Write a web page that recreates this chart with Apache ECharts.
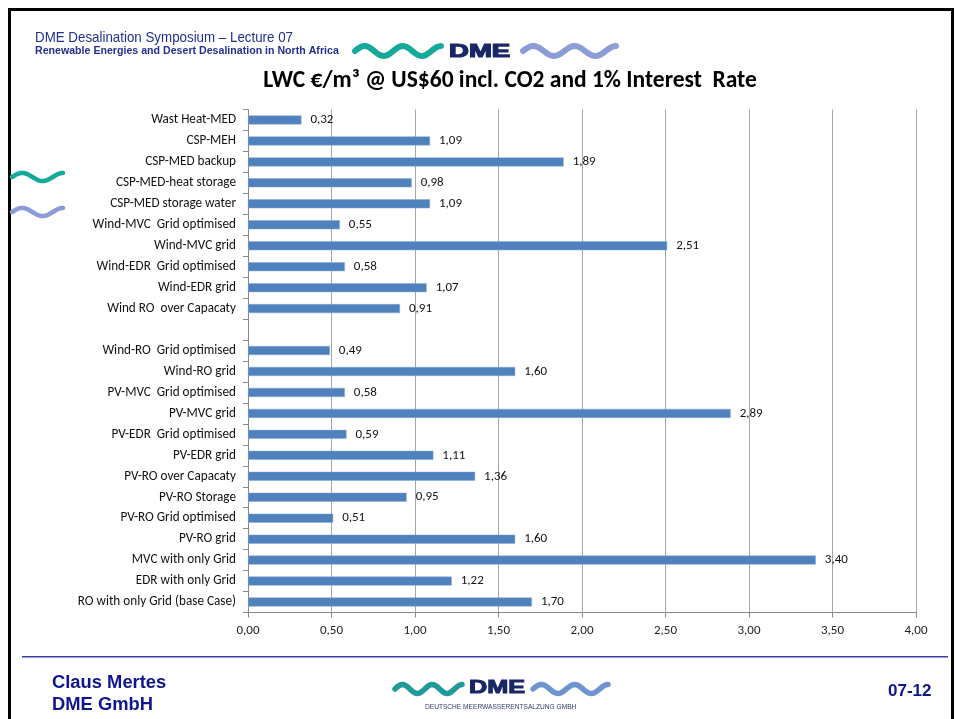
<!DOCTYPE html>
<html>
<head>
<meta charset="utf-8">
<script src="https://cdn.jsdelivr.net/npm/echarts@6/dist/echarts.min.js"></script>
<style>
  html, body { margin: 0; padding: 0; background: #fff; }
  #chart { width: 955px; height: 719px; }
</style>
</head>
<body>
<div id="chart"></div>
<script>
// categories top to bottom (the blank one is the gap in the slide)
var categories = [
    'Wast Heat-MED', 'CSP-MEH', 'CSP-MED backup', 'CSP-MED-heat storage',
    'CSP-MED storage water', 'Wind-MVC  Grid optimised', 'Wind-MVC grid',
    'Wind-EDR  Grid optimised', 'Wind-EDR grid', 'Wind RO  over Capacaty', '',
    'Wind-RO  Grid optimised', 'Wind-RO grid', 'PV-MVC  Grid optimised',
    'PV-MVC grid', 'PV-EDR  Grid optimised', 'PV-EDR grid', 'PV-RO over Capacaty',
    'PV-RO Storage', 'PV-RO Grid optimised', 'PV-RO grid', 'MVC with only Grid',
    'EDR with only Grid', 'RO with only Grid (base Case)'
];
var lwcValues = [
    0.32, 1.09, 1.89, 0.98, 1.09, 0.55, 2.51, 0.58, 1.07, 0.91, '-',
    0.49, 1.60, 0.58, 2.89, 0.59, 1.11, 1.36, 0.95, 0.51, 1.60, 3.40, 1.22, 1.70
];
var xTicks = [0, 0.5, 1, 1.5, 2, 2.5, 3, 3.5, 4];

var LABEL_FONT = 'Carlito, Lato, sans-serif';
var TEAL = '#14a99b';
var LILAC = '#8c9dd6';
var NAVY = '#1a2766';

// wavy decoration for the logos
function wave(x0, x1, yc, amp, periods, color, width) {
    var pts = [];
    var n = 40;
    for (var i = 0; i <= n; i++) {
        var t = i / n;
        pts.push([x0 + (x1 - x0) * t, yc - amp * Math.sin(2 * Math.PI * periods * t)]);
    }
    return {
        type: 'polyline',
        shape: { points: pts },
        style: { stroke: color, lineWidth: width, fill: null, lineCap: 'round' },
        silent: true
    };
}

function fmt(v) {
    return Number(v).toFixed(2).replace('.', ',');
}

var chart = echarts.init(document.getElementById('chart'));

var option = {
    animation: false,
    backgroundColor: '#fff',
    title: {
        text: 'LWC €/m³ @ US$60 incl. CO2 and 1% Interest  Rate',
        left: 505,
        textAlign: 'center',
        top: 64,
        textStyle: {
            fontFamily: LABEL_FONT,
            fontWeight: 'bold',
            fontSize: 23.5,
            color: '#000'
        }
    },
    grid: {
        left: 248,
        right: 39,
        top: 109.5,
        bottom: 106.5,
        containLabel: false
    },
    xAxis: {
        type: 'value',
        min: 0,
        max: 4,
        interval: 0.5,
        axisLine: { show: true, lineStyle: { color: '#888', width: 1 } },
        axisTick: { show: true, length: 5, lineStyle: { color: '#888' } },
        splitLine: { show: true, lineStyle: { color: '#a6a6a6', width: 1 } },
        axisLabel: {
            color: '#222',
            fontFamily: LABEL_FONT,
            fontSize: 13,
            margin: 12,
            formatter: function(v) {
                return xTicks.indexOf(v) >= 0 ? fmt(v) : '';
            }
        }
    },
    yAxis: {
        type: 'category',
        inverse: true,
        data: categories,
        axisLine: { show: true, lineStyle: { color: '#888', width: 1 } },
        axisTick: { show: true, length: 5, lineStyle: { color: '#888' } },
        axisLabel: {
            color: '#111',
            fontFamily: LABEL_FONT,
            fontSize: 13.2,
            margin: 12,
            interval: 0
        }
    },
    series: [{
        type: 'bar',
        data: lwcValues,
        barWidth: 9,
        itemStyle: { color: '#4f81bd', borderColor: '#86a8d4', borderWidth: 0.5 },
        label: {
            show: true,
            position: 'right',
            distance: 9,
            color: '#111',
            fontFamily: LABEL_FONT,
            fontSize: 13,
            formatter: function(p) { return fmt(p.value); }
        }
    }],
    graphic: [
        // slide frame
        { type: 'rect', shape: { x: 8, y: 8, width: 3, height: 711 }, style: { fill: '#000' }, silent: true },
        { type: 'rect', shape: { x: 8, y: 8, width: 946, height: 3 }, style: { fill: '#000' }, silent: true },
        { type: 'rect', shape: { x: 951, y: 8, width: 3, height: 711 }, style: { fill: '#000' }, silent: true },
        // header texts
        {
            type: 'text', x: 35, y: 30, scaleX: 0.92,
            style: { text: 'DME Desalination Symposium – Lecture 07', fill: '#22308f',
                font: '14.5px "Liberation Sans", Arial, sans-serif' }
        },
        {
            type: 'text', x: 35, y: 45, scaleX: 0.965,
            style: { text: 'Renewable Energies and Desert Desalination in North Africa', fill: '#22308f',
                font: 'bold 11px "Liberation Sans", Arial, sans-serif' }
        },
        // header logo
        wave(355, 441, 51, 5, 2.25, TEAL, 6),
        {
            type: 'text', x: 449, y: 42, scaleX: 1.45,
            style: { text: 'DME', fill: NAVY, stroke: NAVY, lineWidth: 1.2,
                font: 'bold 19px "Liberation Sans", Arial, sans-serif' }
        },
        wave(523, 616, 51, 5, 2.25, LILAC, 6),
        // left side decorations
        wave(12, 63, 177, 4, 1.25, TEAL, 4.5),
        wave(12, 63, 212, 4, 1.25, LILAC, 4.5),
        // footer
        { type: 'rect', shape: { x: 22, y: 656, width: 926, height: 1.5 }, style: { fill: '#3b3fa3' }, silent: true },
        {
            type: 'text', x: 52, y: 674, scaleX: 1.02,
            style: { text: 'Claus Mertes', fill: '#0f1490',
                font: 'bold 18px "Liberation Sans", Arial, sans-serif' }
        },
        {
            type: 'text', x: 52, y: 696, scaleX: 1.02,
            style: { text: 'DME GmbH', fill: '#0f1490',
                font: 'bold 18px "Liberation Sans", Arial, sans-serif' }
        },
        {
            type: 'text', x: 888, y: 683,
            style: { text: '07-12', fill: '#0f1490',
                font: 'bold 17px "Liberation Sans", Arial, sans-serif' }
        },
        // footer logo
        wave(395, 462, 689, 4.5, 2.25, '#1f9a98', 5.5),
        {
            type: 'text', x: 469, y: 679, scaleX: 1.4,
            style: { text: 'DME', fill: NAVY, stroke: NAVY, lineWidth: 1,
                font: 'bold 18px "Liberation Sans", Arial, sans-serif' }
        },
        wave(533, 608, 689, 4.5, 2.25, '#6f93cc', 5.5),
        {
            type: 'text', x: 425, y: 704,
            style: { text: 'DEUTSCHE MEERWASSERENTSALZUNG GMBH', fill: '#333a6a',
                font: '6.6px "Liberation Sans", Arial, sans-serif' }
        }
    ]
};

chart.setOption(option);
</script>
</body>
</html>
